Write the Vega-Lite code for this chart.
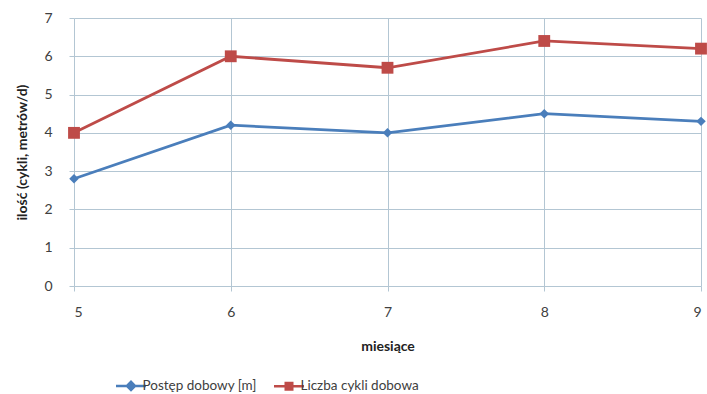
{
  "$schema": "https://vega.github.io/schema/vega-lite/v6.json",
  "width": 627,
  "height": 268,
  "autosize": "none",
  "padding": {"left": 74, "top": 18, "right": 6, "bottom": 108},
  "background": "white",
  "config": {
    "view": {"stroke": null},
    "font": "Lato",
    "axis": {
      "gridColor": "#b3c6d3",
      "gridWidth": 1,
      "gridOpacity": 1,
      "domain": false,
      "tickColor": "#b3c6d3",
      "tickSize": 5,
      "labelColor": "#404040",
      "labelFontSize": 14,
      "titleColor": "#222222",
      "titleFontSize": 14,
      "titleFontWeight": "bold"
    }
  },
  "data": {
    "values": [
      {"miesiac": 5, "seria": "Postęp dobowy [m]", "wartosc": 2.8},
      {"miesiac": 6, "seria": "Postęp dobowy [m]", "wartosc": 4.2},
      {"miesiac": 7, "seria": "Postęp dobowy [m]", "wartosc": 4.0},
      {"miesiac": 8, "seria": "Postęp dobowy [m]", "wartosc": 4.5},
      {"miesiac": 9, "seria": "Postęp dobowy [m]", "wartosc": 4.3},
      {"miesiac": 5, "seria": "Liczba cykli dobowa", "wartosc": 4.0},
      {"miesiac": 6, "seria": "Liczba cykli dobowa", "wartosc": 6.0},
      {"miesiac": 7, "seria": "Liczba cykli dobowa", "wartosc": 5.7},
      {"miesiac": 8, "seria": "Liczba cykli dobowa", "wartosc": 6.4},
      {"miesiac": 9, "seria": "Liczba cykli dobowa", "wartosc": 6.2}
    ]
  },
  "encoding": {
    "x": {
      "field": "miesiac",
      "type": "quantitative",
      "scale": {"domain": [5, 9], "nice": false, "zero": false},
      "axis": {"values": [5, 6, 7, 8, 9], "labelPadding": 14, "title": "miesiące", "titlePadding": 20}
    },
    "y": {
      "field": "wartosc",
      "type": "quantitative",
      "scale": {"domain": [0, 7], "nice": false},
      "axis": {"values": [0, 1, 2, 3, 4, 5, 6, 7], "labelPadding": 17, "title": "ilość (cykli, metrów/d)", "titlePadding": 14}
    },
    "color": {
      "field": "seria",
      "type": "nominal",
      "scale": {"domain": ["Postęp dobowy [m]", "Liczba cykli dobowa"], "range": ["#4a7ebb", "#be4b48"]},
      "legend": {
        "title": null,
        "orient": "none",
        "legendX": 41,
        "legendY": 361,
        "direction": "horizontal",
        "labelFontSize": 13.5,
        "labelColor": "#404040",
        "symbolType": "M-3,0L3,0M-0.8,0L0,-0.8L0.8,0L0,0.8Z",
        "symbolSize": 100,
        "symbolStrokeWidth": 2.5,
        "symbolStrokeColor": "#4a7ebb",
        "columnPadding": 12,
        "labelOffset": 14,
        "encode": {
          "symbols": {
            "update": {
              "shape": {"signal": "datum.value === 'Postęp dobowy [m]' ? 'M-3,0L3,0M-0.8,0L0,-0.8L0.8,0L0,0.8Z' : 'M-3,0L3,0M-0.65,-0.65L0.65,-0.65L0.65,0.65L-0.65,0.65Z'"},
              "stroke": {"signal": "datum.value === 'Postęp dobowy [m]' ? '#4a7ebb' : '#be4b48'"},
              "fill": {"signal": "datum.value === 'Postęp dobowy [m]' ? '#4a7ebb' : '#be4b48'"},
              "strokeWidth": {"value": 2.5},
              "fillOpacity": {"value": 1},
              "strokeOpacity": {"value": 1},
              "xc": {"value": 16}
            }
          }
        }
      }
    }
  },
  "layer": [
    {
      "mark": {"type": "line", "strokeWidth": 2.8},
      "encoding": {"detail": {"field": "seria"}}
    },
    {
      "transform": [{"filter": "datum.seria === 'Postęp dobowy [m]'"}],
      "mark": {"type": "point", "filled": true, "opacity": 1, "shape": "diamond", "size": 90}
    },
    {
      "transform": [{"filter": "datum.seria === 'Liczba cykli dobowa'"}],
      "mark": {"type": "point", "filled": true, "opacity": 1, "shape": "square", "size": 140}
    }
  ]
}
